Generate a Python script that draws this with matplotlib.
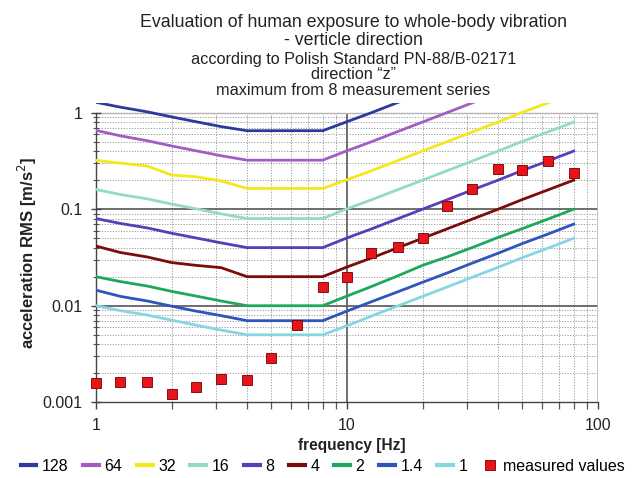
import matplotlib
matplotlib.use('Agg')
import matplotlib.pyplot as plt
from matplotlib.ticker import FixedLocator, FuncFormatter, NullFormatter
from matplotlib.lines import Line2D

plt.rcParams['font.family'] = ['Liberation Sans', 'DejaVu Sans']

# ---------------- data ----------------
freqs = [1, 1.25, 1.6, 2, 2.5, 3.15, 4, 5, 6.3, 8, 10, 12.5, 16, 20, 25, 31.5, 40, 50, 63, 80]

curve_128 = [1.28, 1.14, 1.02, 0.904, 0.806, 0.717, 0.650, 0.650, 0.650, 0.650, 0.806, 0.998, 1.28, 1.60,
             2.00, 2.52, 3.20, 4.03, 5.04, 6.40]
curve_64 = [0.655, 0.575, 0.512, 0.452, 0.403, 0.358, 0.322, 0.322, 0.322, 0.322, 0.403, 0.499, 0.640, 0.800,
            1.00, 1.26, 1.60, 2.02, 2.52, 3.20]
curve_32 = [0.320, 0.300, 0.280, 0.226, 0.217, 0.196, 0.164, 0.164, 0.164, 0.164, 0.202, 0.250, 0.320, 0.400,
            0.500, 0.630, 0.800, 1.01, 1.26, 1.60]
curve_16 = [0.160, 0.142, 0.128, 0.113, 0.101, 0.0896, 0.080, 0.080, 0.080, 0.080, 0.101, 0.125, 0.160, 0.200,
            0.250, 0.315, 0.400, 0.504, 0.630, 0.800]
curve_8 = [0.080, 0.0712, 0.064, 0.0564, 0.0504, 0.0448, 0.040, 0.040, 0.040, 0.040, 0.0504, 0.0624, 0.080, 0.100,
           0.125, 0.158, 0.200, 0.252, 0.315, 0.400]
curve_4 = [0.0415, 0.0356, 0.0320, 0.0280, 0.0262, 0.0248, 0.0200, 0.0200, 0.0200, 0.0200, 0.0252, 0.0312, 0.0400,
           0.0500, 0.0624, 0.0788, 0.1000, 0.126, 0.158, 0.200]
curve_2 = [0.0200, 0.0178, 0.0160, 0.0141, 0.0126, 0.0112, 0.0100, 0.0100, 0.0100, 0.0100, 0.0126, 0.0158, 0.0205,
           0.0262, 0.0320, 0.0400, 0.0510, 0.0630, 0.0788, 0.1000]
curve_1_4 = [0.0145, 0.0125, 0.0112, 0.0099, 0.0088, 0.0079, 0.0070, 0.0070, 0.0070, 0.0070, 0.0088, 0.0110, 0.0140,
             0.0175, 0.0218, 0.0276, 0.0350, 0.0441, 0.0551, 0.0700]
curve_1 = [0.0100, 0.0089, 0.0080, 0.0071, 0.0063, 0.0056, 0.0050, 0.0050, 0.0050, 0.0050, 0.0062, 0.0078, 0.0100,
           0.0125, 0.0156, 0.0197, 0.0250, 0.0315, 0.0394, 0.0500]

curve_labels = ['128', '64', '32', '16', '8', '4', '2', '1.4', '1']
curve_colors = ['#2a3a9e', '#a45cc4', '#f2e81a', '#94dcbc', '#5a3db8', '#7a0c0c', '#1ea85a', '#2e55bc', '#86d6e2']

measured = [0.00159, 0.00163, 0.00163, 0.00122, 0.00143, 0.00175, 0.00170, 0.00285, 0.0063, 0.0155,
            0.0197, 0.0349, 0.0409, 0.0499, 0.107, 0.161, 0.259, 0.255, 0.318, 0.235]

x_ticks = [1, 10, 100]
y_ticks = [0.001, 0.01, 0.1, 1]

title_lines = ['Evaluation of human exposure to whole-body vibration',
               '- verticle direction',
               'according to Polish Standard PN-88/B-02171',
               'direction \u201cz\u201d',
               'maximum from 8 measurement series']

# ---------------- figure ----------------
fig = plt.figure(figsize=(6.33, 4.78), dpi=100)
ax = fig.add_axes([0.1517, 0.1584, 0.7930, 0.6255])
ax.set_xscale('log')
ax.set_yscale('log')
ax.set_xlim(1, 100)
ax.set_ylim(0.001, 1.25)

# grid (restricted to the 0.001..1 box)
minor_x = [k * 10 ** d for d in (0, 1) for k in range(2, 10)]
minor_y = [k * 10.0 ** d for d in (-3, -2, -1) for k in range(2, 10)]
ax.vlines(minor_x, 0.001, 1, colors='#9a9a9a', linewidth=0.7, linestyles=(0, (1.2, 1.6)), zorder=0)
ax.hlines(minor_y, 1, 100, colors='#9a9a9a', linewidth=0.7, linestyles=(0, (1.2, 1.6)), zorder=0)
ax.hlines([0.01, 0.1], 1, 100, colors='#555555', linewidth=1.2, zorder=1)
ax.vlines([10], 0.001, 1, colors='#555555', linewidth=1.2, zorder=1)
ax.hlines([1], 1, 100, colors='#b5b5b5', linewidth=1.0, zorder=1)
ax.vlines([100], 0.001, 1, colors='#b5b5b5', linewidth=1.2, zorder=1)

curves = [curve_128, curve_64, curve_32, curve_16, curve_8, curve_4, curve_2, curve_1_4, curve_1]
for vals, lab, col in zip(curves, curve_labels, curve_colors):
    ax.plot(freqs, vals, color=col, linewidth=2.0, label=lab, zorder=3, solid_joinstyle='round')

ax.plot(freqs, measured, linestyle='none', marker='s', markersize=7.5, markerfacecolor='#e8141a',
        markeredgecolor='#6a0000', markeredgewidth=0.6, label='measured values', zorder=5, clip_on=False)

# spines & ticks
for s in ('top', 'right'):
    ax.spines[s].set_visible(False)
ax.spines['left'].set_bounds(0.001, 1)
ax.spines['left'].set_color('#444444')
ax.spines['bottom'].set_color('#444444')
ax.spines['left'].set_linewidth(1.0)
ax.spines['bottom'].set_linewidth(1.0)

ax.xaxis.set_major_locator(FixedLocator(x_ticks))
ax.xaxis.set_minor_locator(FixedLocator(minor_x))
ax.yaxis.set_major_locator(FixedLocator(y_ticks))
ax.yaxis.set_minor_locator(FixedLocator(minor_y))
fmt = FuncFormatter(lambda v, _: f'{v:g}')
ax.xaxis.set_major_formatter(fmt)
ax.yaxis.set_major_formatter(fmt)
ax.xaxis.set_minor_formatter(NullFormatter())
ax.yaxis.set_minor_formatter(NullFormatter())
ax.tick_params(axis='x', which='major', direction='out', length=5, width=1, color='#444444',
               labelsize=11.5, pad=6, labelcolor='#222222')
ax.tick_params(axis='x', which='minor', direction='out', length=5, width=0.9, color='#555555')
ax.tick_params(axis='y', which='major', direction='inout', length=7, width=1, color='#444444',
               labelsize=11.5, pad=6, labelcolor='#222222')
ax.tick_params(axis='y', which='minor', direction='inout', length=5, width=0.8, color='#555555')

# titles & labels (baseline-positioned)
title_y = [0.944, 0.905, 0.867, 0.834, 0.801]
title_sz = [12.8, 12.8, 11.7, 11.7, 11.7]
for t, yy, sz in zip(title_lines, title_y, title_sz):
    fig.text(0.558, yy, t, ha='center', va='baseline', fontsize=sz, color='#222222')

fig.text(0.555, 0.069, 'frequency [Hz]', ha='center', va='center', fontsize=11.2,
         fontweight='bold', color='#222222')
fig.text(0.043, 0.47, 'acceleration RMS [m/s$^2$]', ha='center', va='center', rotation=90,
         fontsize=12, fontweight='bold', color='#222222')

handles, labels = ax.get_legend_handles_labels()
leg = fig.legend(handles, labels, loc='center', bbox_to_anchor=(0.51, 0.024), ncol=10, frameon=False,
                 fontsize=11.5, handlelength=1.0, handletextpad=0.35, columnspacing=0.9,
                 borderaxespad=0, borderpad=0)
for h in leg.legend_handles:
    if isinstance(h, Line2D) and h.get_marker() == 's':
        h.set_markersize(6.5)
    else:
        h.set_linewidth(3)

fig.savefig('out.png', dpi=100)
